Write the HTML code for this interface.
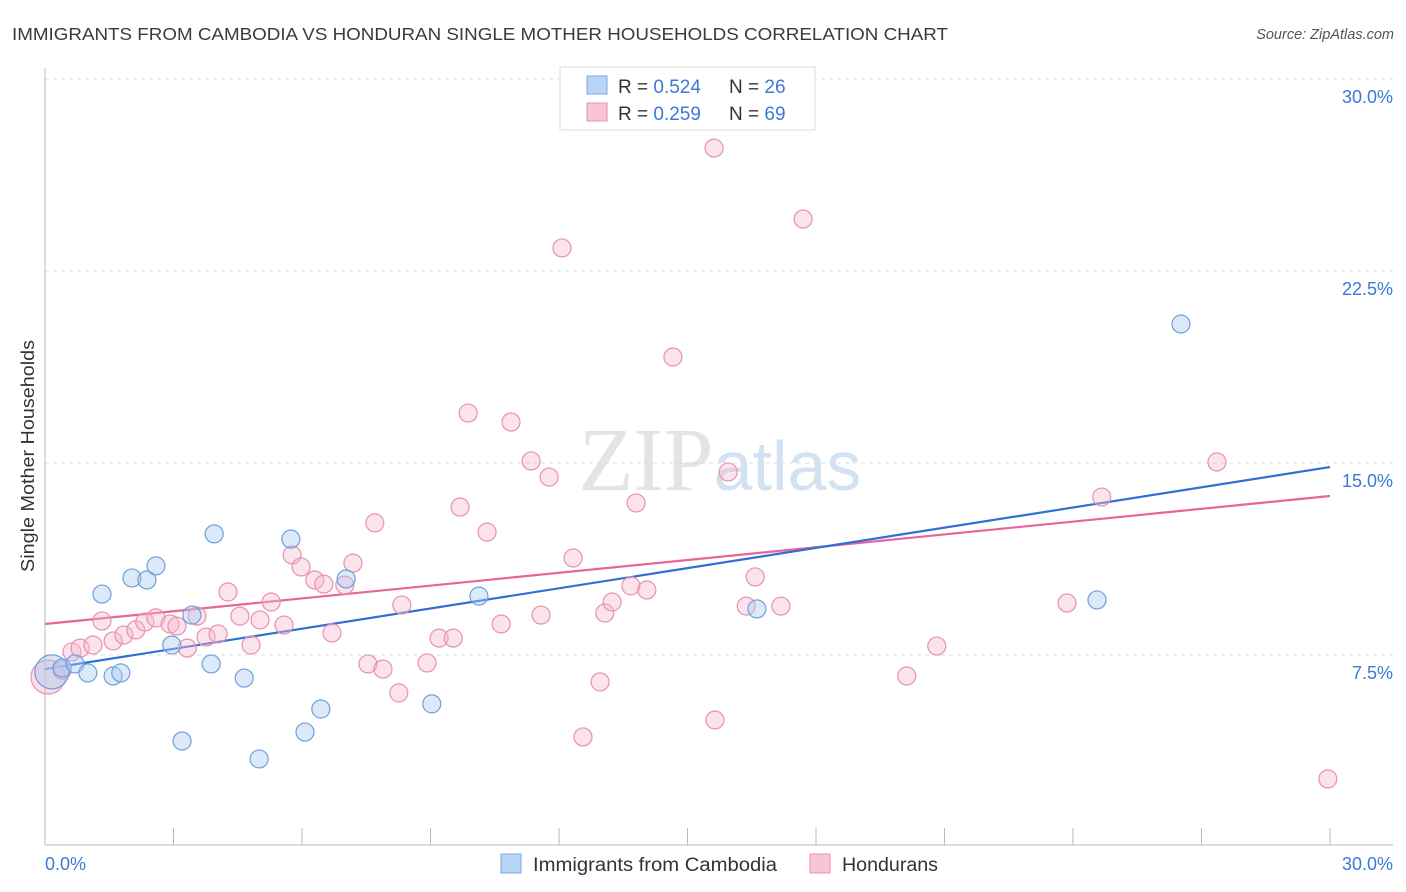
<!DOCTYPE html>
<html><head><meta charset="utf-8"><style>
body{margin:0;background:#fff;font-family:"Liberation Sans",sans-serif;}
svg{display:block}
</style></head><body>
<svg id="chart" width="1406" height="892" xmlns="http://www.w3.org/2000/svg">
<text x="12" y="40" font-size="17.5" fill="#3a3a3a" textLength="936" lengthAdjust="spacingAndGlyphs">IMMIGRANTS FROM CAMBODIA VS HONDURAN SINGLE MOTHER HOUSEHOLDS CORRELATION CHART</text>
<text x="1394" y="39" font-size="14.5" fill="#555" font-style="italic" text-anchor="end">Source: ZipAtlas.com</text>
<text transform="translate(34,456) rotate(-90)" font-size="18" fill="#333" text-anchor="middle" textLength="232" lengthAdjust="spacingAndGlyphs">Single Mother Households</text>
<text x="720" y="490" font-size="90" fill="#e4e4e4" text-anchor="middle" font-family="Liberation Serif,serif">ZIP<tspan fill="#d3e2f3" font-family="Liberation Sans,sans-serif" font-size="70">atlas</tspan></text>
<g id="grid"></g><g id="axes"></g><g id="lines"></g><g id="pts"></g>
<g>
<rect x="560" y="67" width="255" height="63" fill="#fff" stroke="#ddd"/>
<rect x="587" y="76" width="20" height="18" fill="#b8d4f5" stroke="#7aaae0"/>
<rect x="587" y="103" width="20" height="18" fill="#f8c4d6" stroke="#e890b0"/>
<text x="618" y="93" font-size="19" fill="#333">R = <tspan fill="#3c78d8">0.524</tspan></text>
<text x="729" y="93" font-size="19" fill="#333">N = <tspan fill="#3c78d8">26</tspan></text>
<text x="618" y="120" font-size="19" fill="#333">R = <tspan fill="#3c78d8">0.259</tspan></text>
<text x="729" y="120" font-size="19" fill="#333">N = <tspan fill="#3c78d8">69</tspan></text>
</g>
<g>
<rect x="501" y="854" width="20" height="19" fill="#b8d4f5" stroke="#7aaae0"/>
<text x="533" y="871" font-size="19" fill="#333" textLength="244" lengthAdjust="spacingAndGlyphs">Immigrants from Cambodia</text>
<rect x="810" y="854" width="20" height="19" fill="#f8c4d6" stroke="#e890b0"/>
<text x="842" y="871" font-size="19" fill="#333" textLength="96" lengthAdjust="spacingAndGlyphs">Hondurans</text>
</g>
</svg>
<script>
const yTicks=[7.5,15,22.5,30];
const yTickLabels=["7.5%","15.0%","22.5%","30.0%"];
const xTicks=[0,3,6,9,12,15,18,21,24,27,30];
const blueX=[0.16,0.40,0.70,1.00,1.33,1.59,1.77,2.03,2.38,2.59,2.96,3.20,3.43,3.88,3.95,4.65,5.00,5.74,6.07,6.44,7.03,9.03,10.13,16.62,24.56,26.52];
const blueY=[6.84,6.99,7.15,6.80,9.88,6.68,6.80,10.51,10.43,10.98,7.89,4.14,9.06,7.15,12.23,6.60,3.44,12.03,4.49,5.39,10.47,5.59,9.80,9.30,9.65,20.43];
const pinkX=[0.07,0.40,0.63,0.82,1.12,1.33,1.59,1.84,2.12,2.33,2.59,2.92,3.08,3.32,3.55,3.76,4.04,4.27,4.55,4.81,5.02,5.28,5.58,5.77,5.98,6.30,6.51,6.70,7.00,7.19,7.54,7.70,7.89,8.26,8.33,8.92,9.20,9.53,9.69,9.88,10.32,10.65,10.88,11.35,11.58,11.77,12.07,12.33,12.56,12.96,13.07,13.24,13.68,13.80,14.05,14.66,15.62,15.64,15.95,16.37,16.58,17.18,17.70,20.12,20.82,23.86,24.67,27.36,29.95];
const pinkY=[6.64,6.91,7.62,7.77,7.89,8.83,8.05,8.28,8.48,8.79,8.95,8.71,8.63,7.77,9.02,8.20,8.32,9.96,9.02,7.89,8.87,9.57,8.67,11.41,10.94,10.43,10.27,8.36,10.23,11.09,7.15,12.66,6.95,6.02,9.45,7.19,8.16,8.16,13.28,16.95,12.30,8.71,16.60,15.08,9.06,14.45,23.40,11.29,4.30,6.45,9.14,9.57,10.20,13.44,10.04,19.14,27.30,4.96,14.65,9.41,10.55,9.41,24.53,6.68,7.85,9.53,13.67,15.04,2.66];
const blueTrend=[6.95,14.84];
const pinkTrend=[8.71,13.71];
const NS="http://www.w3.org/2000/svg";
const X0=45,X1=1330,Y0=847,PXY=192/7.5;
const sx=v=>X0+(v/30)*(X1-X0);
const sy=v=>Y0-v*PXY;
function mk(tag,attrs,parent){const e=document.createElementNS(NS,tag);for(const k in attrs)e.setAttribute(k,attrs[k]);document.getElementById(parent).appendChild(e);return e;}
yTicks.forEach((t,i)=>{
 const l=mk('line',{x1:45,x2:1393,y1:sy(t),y2:sy(t),stroke:'#ddd','stroke-dasharray':'4,4'},'grid');
 
 
 const tx=mk('text',{x:1393,y:sy(t)+24,'font-size':18,fill:'#3c78d8','text-anchor':'end'},'grid');
 tx.textContent=yTickLabels[i];
 
 
});
let a=mk('line',{x1:45,x2:45,y1:68,y2:845,stroke:'#bbb'},'axes');


a=mk('line',{x1:45,x2:1393,y1:845,y2:845,stroke:'#bbb'},'axes');


xTicks.forEach(t=>{const l=mk('line',{x1:sx(t),x2:sx(t),y1:828,y2:845,stroke:'#bbb'},'axes');
 
 });
let t=mk('text',{x:45,y:870,'font-size':18,fill:'#3c78d8'},'axes');t.textContent='0.0%';


t=mk('text',{x:1393,y:870,'font-size':18,fill:'#3c78d8','text-anchor':'end'},'axes');t.textContent='30.0%';


function pts(xs,ys,fill,stroke,name){xs.forEach((x,i)=>{const big=i===0;const c=mk('circle',{cx:sx(x),cy:sy(ys[i]),r:big?17:9,fill:fill,'fill-opacity':big?0.45:0.4,stroke:stroke,'stroke-width':1.2},'pts');
 
 });}
pts(pinkX,pinkY,'#f5b8cc','#e890b0','point-hondurans');
pts(blueX,blueY,'#a8c8f0','#6e9fdc','point-cambodia');
let ln=mk('line',{x1:sx(0),y1:sy(pinkTrend[0]),x2:sx(30),y2:sy(pinkTrend[1]),stroke:'#e8649a','stroke-width':2.2},'lines');


ln=mk('line',{x1:sx(0),y1:sy(blueTrend[0]),x2:sx(30),y2:sy(blueTrend[1]),stroke:'#2f6fd6','stroke-width':2.2},'lines');


</script>
</body></html>
